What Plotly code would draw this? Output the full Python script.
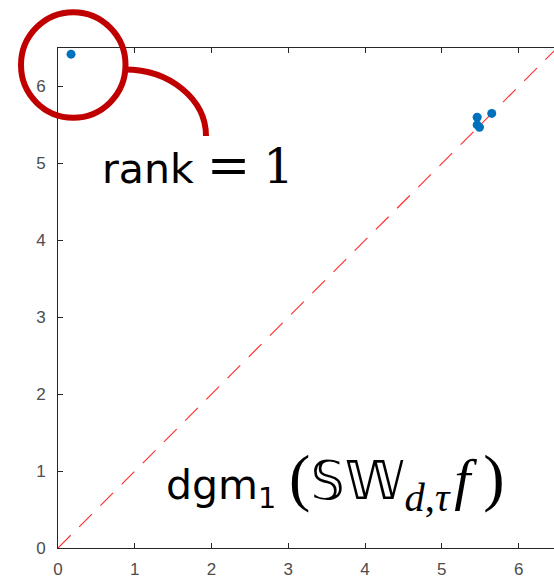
import plotly.graph_objects as go

# Persistence diagram points (birth, death) in dimension 1
births = [0.17, 5.46, 5.46, 5.49, 5.65]
deaths = [6.42, 5.60, 5.50, 5.47, 5.65]

tick_vals = [0, 1, 2, 3, 4, 5, 6]
axis_max = 6.5

W, H = 554, 580
ML, MR, MT, MB = 58, 0, 48, 32
PW, PH = W - ML - MR, H - MT - MB


def px2paper(x, y):
    """Convert page pixel coordinates to paper coordinates."""
    return (x - ML) / PW, (H - MB - y) / PH


def span(txt, family, size):
    return '<span style="font-family:{};font-size:{}px">{}</span>'.format(family, size, txt)


fig = go.Figure()

# Diagonal birth = death
fig.add_trace(go.Scatter(
    x=[0, axis_max], y=[0, axis_max], mode="lines",
    line=dict(color="#ff2a2a", width=1.1, dash="18px,12px"),
    hoverinfo="skip", showlegend=False,
))

fig.add_trace(go.Scatter(
    x=births, y=deaths, mode="markers",
    marker=dict(color="#0072BD", size=9, line=dict(width=0)),
    showlegend=False,
))

axis_common = dict(
    showgrid=False, zeroline=False, showline=True,
    linecolor="#262626", linewidth=1,
    ticks="inside", ticklen=5, tickwidth=1, tickcolor="#262626",
    tickvals=tick_vals,
    tickfont=dict(family="Liberation Sans, Arial", size=17, color="#4d4d4d"),
)

fig.update_xaxes(range=[0, axis_max * PW / 499], mirror="ticks",
                 ticklabelstandoff=6, **axis_common)
fig.update_yaxes(range=[0, axis_max], mirror=False,
                 ticklabelstandoff=8, **axis_common)

# Highlight ring around the most persistent class
red = "#c00000"
cx0, cy0 = px2paper(21, 12.3)
cx1, cy1 = px2paper(125.5, 117.7)
fig.add_shape(type="circle", xref="paper", yref="paper",
              x0=cx0, x1=cx1, y0=cy1, y1=cy0,
              line=dict(color=red, width=6), layer="above")

# Curved leader from the ring down to the label
sx, sy = 125, 69.5
ex, ey = 206, 136
k = 0.5523
pts = [(sx, sy), (sx + k * (ex - sx), sy), (ex, ey - k * (ey - sy)), (ex, ey)]
pp = [px2paper(x, y) for x, y in pts]
path = "M {:.5f},{:.5f} C {:.5f},{:.5f} {:.5f},{:.5f} {:.5f},{:.5f}".format(
    pp[0][0], pp[0][1], pp[1][0], pp[1][1], pp[2][0], pp[2][1], pp[3][0], pp[3][1])
fig.add_shape(type="path", xref="paper", yref="paper", path=path,
              line=dict(color=red, width=6), layer="above")

serif = "Liberation Serif"

rank_text = (
    "rank"
    + span("\u2005=\u2005", "DejaVu Serif", 52)
    + span("1", "DejaVu Serif", 48)
)
ax, ay = px2paper(100, 197)
fig.add_annotation(
    xref="paper", yref="paper", x=ax, y=ay, xanchor="left", yanchor="bottom",
    text=rank_text, showarrow=False,
    font=dict(family="DejaVu Sans", size=41, color="black"),
)

dgm_text = (
    "dgm<sub>1</sub>"
    + span("\u2009(", serif, 64)
    + span("𝕊𝕎", "DejaVu Sans", 54)
    + span("<sub><i>d</i>,<i>τ</i></sub>\u200a<i>f</i>", serif, 58)
    + span("\u2009)", serif, 64)
)
bx, by = px2paper(164, 522)
fig.add_annotation(
    xref="paper", yref="paper", x=bx, y=by, xanchor="left", yanchor="bottom",
    text=dgm_text, showarrow=False,
    font=dict(family="DejaVu Sans", size=41, color="black"),
)

fig.update_layout(
    width=W, height=H,
    margin=dict(l=ML, r=MR, t=MT, b=MB, pad=0),
    plot_bgcolor="white", paper_bgcolor="white",
    showlegend=False,
)

fig.write_html("out.html")
